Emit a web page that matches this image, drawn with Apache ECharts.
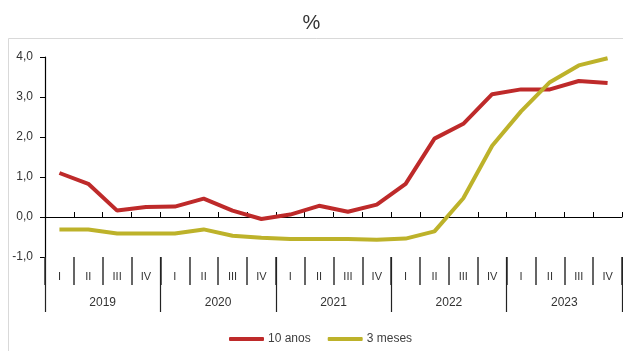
<!DOCTYPE html>
<html>
<head>
<meta charset="utf-8">
<script src="https://cdn.jsdelivr.net/npm/echarts@6/dist/echarts.min.js"></script>
<style>
  html, body { margin: 0; padding: 0; background: #fff; }
  #chart { width: 623px; height: 351px; }
</style>
</head>
<body>
<div id="chart"></div>
<script>
// Quarterly rates, 2019 Q1 – 2023 Q4 (%)
const years = ['2019', '2020', '2021', '2022', '2023'];
const quarters = ['I', 'II', 'III', 'IV'];
const tenYears = [1.10, 0.83, 0.16, 0.25, 0.26, 0.46, 0.16, -0.05,
                  0.06, 0.28, 0.13, 0.31, 0.83, 1.96, 2.33, 3.07,
                  3.19, 3.19, 3.40, 3.35];
const threeMonths = [-0.31, -0.31, -0.41, -0.41, -0.41, -0.31, -0.47, -0.52,
                     -0.55, -0.55, -0.55, -0.57, -0.54, -0.36, 0.47, 1.78,
                     2.64, 3.37, 3.79, 3.97];
const yTicks = { min: -1, max: 4, step: 1 };

const categories = [];
const quarterLabels = [];
years.forEach(y => quarters.forEach(q => { categories.push(y + ' ' + q); quarterLabels.push(q); }));

const font = 'Liberation Sans, Arial, sans-serif';
const chart = echarts.init(document.getElementById('chart'), null, { renderer: 'canvas' });

chart.setOption({
  animation: false,
  backgroundColor: '#fff',
  title: {
    text: '%',
    left: 'center',
    top: 8,
    textStyle: { fontFamily: font, fontSize: 20, fontWeight: 'normal', color: '#333' }
  },
  graphic: [{
    type: 'rect',
    shape: { x: 8.5, y: 38.5, width: 700, height: 400 },
    style: { fill: 'none', stroke: '#d9d9d9', lineWidth: 1 },
    silent: true
  }],
  legend: {
    left: 224,
    top: 328,
    itemWidth: 35,
    itemHeight: 4,
    itemGap: 17,
    icon: 'roundRect',
    textStyle: { fontFamily: font, fontSize: 12, color: '#404040', padding: [0, 0, 0, -1] },
    data: ['10 anos', '3 meses']
  },
  grid: { left: 45, right: 1, top: 57, bottom: 94, containLabel: false },
  xAxis: [
    {
      // axis line crossing at zero, with short inward ticks
      type: 'category',
      data: categories,
      position: 'bottom',
      boundaryGap: true,
      axisLine: { onZero: true, lineStyle: { color: '#000', width: 1 } },
      axisTick: { show: true, inside: true, length: 5, interval: 0, lineStyle: { color: '#000' } },
      axisLabel: { show: false },
      splitLine: { show: false }
    },
    {
      // quarter labels below the plot
      type: 'category',
      data: quarterLabels,
      position: 'bottom',
      boundaryGap: true,
      axisLine: { show: false, onZero: false },
      axisTick: { show: true, length: 28, interval: 0, lineStyle: { color: '#333', width: 1.5 } },
      axisLabel: { interval: 0, margin: 14, fontFamily: font, fontSize: 11, color: '#333' },
      splitLine: { show: false }
    },
    {
      // year labels
      type: 'category',
      data: years,
      position: 'bottom',
      boundaryGap: true,
      axisLine: { show: false, onZero: false },
      axisTick: { show: true, length: 55, interval: 0, lineStyle: { color: '#222', width: 1.2 } },
      axisLabel: { interval: 0, margin: 40, fontFamily: font, fontSize: 12, color: '#333' },
      splitLine: { show: false }
    }
  ],
  yAxis: {
    type: 'value',
    min: yTicks.min,
    max: yTicks.max,
    interval: yTicks.step,
    axisLine: { show: true, lineStyle: { color: '#000', width: 1.2 } },
    axisTick: { show: true, length: 5, lineStyle: { color: '#000' } },
    axisLabel: {
      margin: 12,
      fontFamily: font,
      fontSize: 12,
      color: '#333',
      formatter: v => v.toFixed(1).replace('.', ',')
    },
    splitLine: { show: false }
  },
  series: [
    {
      name: '10 anos',
      type: 'line',
      xAxisIndex: 0,
      data: tenYears,
      showSymbol: false,
      symbol: 'none',
      color: '#BE2A2A',
      lineStyle: { width: 4, color: '#BE2A2A' },
      z: 3
    },
    {
      name: '3 meses',
      type: 'line',
      xAxisIndex: 0,
      data: threeMonths,
      showSymbol: false,
      symbol: 'none',
      color: '#BDB22A',
      lineStyle: { width: 4, color: '#BDB22A' },
      z: 4
    }
  ]
});
</script>
</body>
</html>
